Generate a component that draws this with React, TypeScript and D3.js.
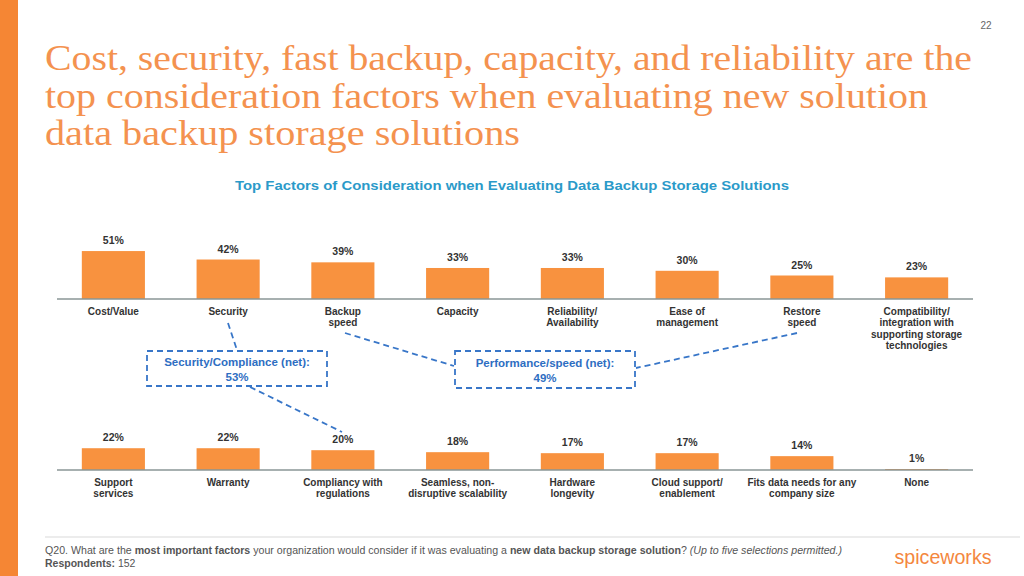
import React from "react";
import * as d3 from "d3";

const topCategories = [
  "Cost/Value",
  "Security",
  "Backup\nspeed",
  "Capacity",
  "Reliability/\nAvailability",
  "Ease of\nmanagement",
  "Restore\nspeed",
  "Compatibility/\nintegration with\nsupporting storage\ntechnologies",
];
const topValues = [51, 42, 39, 33, 33, 30, 25, 23];

const bottomCategories = [
  "Support\nservices",
  "Warranty",
  "Compliancy with\nregulations",
  "Seamless, non-\ndisruptive scalability",
  "Hardware\nlongevity",
  "Cloud support/\nenablement",
  "Fits data needs for any\ncompany size",
  "None",
];
const bottomValues = [22, 22, 20, 18, 17, 17, 14, 1];

const titleLines = [
  "Cost, security, fast backup, capacity, and reliability are the",
  "top consideration factors when evaluating new solution",
  "data backup storage solutions",
];
const subtitle = "Top Factors of Consideration when Evaluating Data Backup Storage Solutions";
const callouts = [
  { line1: "Security/Compliance (net):", line2: "53%" },
  { line1: "Performance/speed (net):", line2: "49%" },
];

const ORANGE = "#F8923F";
const BLUE = "#2E6EC2";
const SANS = "'Liberation Sans', Arial, sans-serif";

function BarRow({ cats, vals, baseY, pxPer100 }: { cats: string[]; vals: number[]; baseY: number; pxPer100: number }) {
  const x = d3.scaleBand<string>().domain(cats).range([56, 974]).paddingInner(0.45).paddingOuter(0.225);
  const y = d3.scaleLinear().domain([0, 100]).range([0, pxPer100]);
  return (
    <g>
      {cats.map((c, i) => {
        const h = y(vals[i]);
        const bx = x(c)!;
        const cx = bx + x.bandwidth() / 2;
        return (
          <g key={c}>
            <rect x={bx} y={baseY - h} width={x.bandwidth()} height={h} fill={ORANGE} />
            <text x={cx} y={baseY - h - 7} textAnchor="middle" fontFamily={SANS} fontWeight="bold" fontSize={10.5} fill="#333">
              {vals[i]}%
            </text>
            <text x={cx} y={baseY + 15.5} textAnchor="middle" fontFamily={SANS} fontWeight="bold" fontSize={10} fill="#333">
              {c.split("\n").map((l, j) => (
                <tspan key={j} x={cx} dy={j === 0 ? 0 : 11.6}>
                  {l}
                </tspan>
              ))}
            </text>
          </g>
        );
      })}
      <line x1={57} x2={973} y1={baseY} y2={baseY} stroke="#8A9696" strokeWidth={1.5} />
    </g>
  );
}

export default function App() {
  const dash = { stroke: "#3876C8", strokeWidth: 1.8, strokeDasharray: "6,4", fill: "none" };
  return (
    <svg width={1024} height={576} style={{ position: "absolute", left: 0, top: 0, background: "#fff" }}>
      <rect x={0} y={0} width={1024} height={576} fill="#fff" />
      <rect x={0} y={0} width={18} height={576} fill="#F58634" />
      <text x={986} y={29} textAnchor="middle" fontFamily={SANS} fontSize={10} fill="#666">22</text>
      {titleLines.map((t, i) => (
        <text
          key={i}
          x={45}
          y={70 + i * 37.5}
          fontFamily="'Liberation Serif', 'DejaVu Serif', serif"
          fontSize={36}
          fill="#F4924F"
          textLength={[927, 883, 475][i]}
          lengthAdjust="spacingAndGlyphs"
        >
          {t}
        </text>
      ))}
      <text x={512} y={190} textAnchor="middle" fontFamily={SANS} fontWeight="bold" fontSize={13.5} fill="#2B9AC9" textLength={554} lengthAdjust="spacingAndGlyphs">
        {subtitle}
      </text>

      <BarRow cats={topCategories} vals={topValues} baseY={299} pxPer100={94} />
      <BarRow cats={bottomCategories} vals={bottomValues} baseY={470} pxPer100={99} />

      {/* connectors */}
      <line x1={228} y1={323} x2={237} y2={350} {...dash} />
      <line x1={345} y1={333} x2={454} y2={366} {...dash} />
      <line x1={797} y1={333} x2={636} y2={368} {...dash} />
      <line x1={250} y1={387} x2={342} y2={432} {...dash} />

      {/* callout boxes */}
      <rect x={147} y={351} width={180} height={35} {...dash} />
      <rect x={455} y={351} width={180} height={37} {...dash} />
      <text x={237} y={366} textAnchor="middle" fontFamily={SANS} fontWeight="bold" fontSize={11.5} fill={BLUE}>{callouts[0].line1}</text>
      <text x={237} y={381} textAnchor="middle" fontFamily={SANS} fontWeight="bold" fontSize={11.5} fill={BLUE}>{callouts[0].line2}</text>
      <text x={545} y={367} textAnchor="middle" fontFamily={SANS} fontWeight="bold" fontSize={11.5} fill={BLUE}>{callouts[1].line1}</text>
      <text x={545} y={382} textAnchor="middle" fontFamily={SANS} fontWeight="bold" fontSize={11.5} fill={BLUE}>{callouts[1].line2}</text>

      {/* footer */}
      <line x1={45} x2={1020} y1={537} y2={537} stroke="#d9d9d9" strokeWidth={1} />
      <text x={45} y={554} fontFamily={SANS} fontSize={10.5} fill="#555" textLength={797} lengthAdjust="spacingAndGlyphs">
        Q20. What are the <tspan fontWeight="bold">most important factors</tspan> your organization would consider if it was evaluating a{" "}
        <tspan fontWeight="bold">new data backup storage solution</tspan>? <tspan fontStyle="italic">(Up to five selections permitted.)</tspan>
      </text>
      <text x={45} y={567} fontFamily={SANS} fontSize={10.5} fill="#555">
        <tspan fontWeight="bold">Respondents:</tspan> 152
      </text>
      <text x={943} y={564} textAnchor="middle" fontFamily={SANS} fontSize={20} fill="#F4873E" textLength={97} lengthAdjust="spacingAndGlyphs">
        spiceworks
      </text>
    </svg>
  );
}
